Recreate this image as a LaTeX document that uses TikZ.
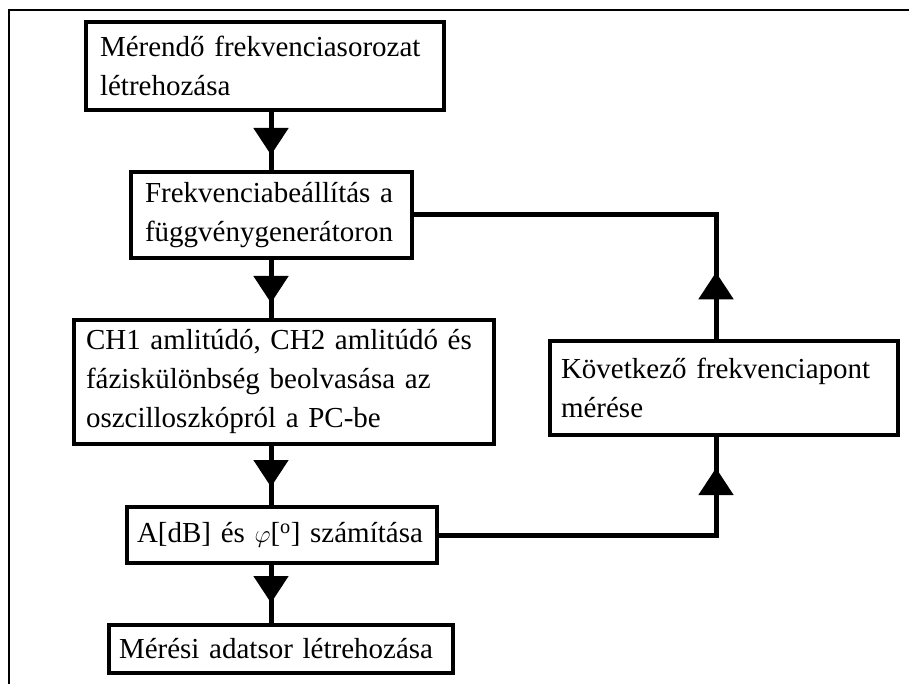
\documentclass[tikz,border=0pt]{standalone}
\usepackage{fontspec}
\setmainfont{Liberation Serif}
\usetikzlibrary{arrows.meta,decorations.markings,calc}
\tikzset{
  box/.style={draw, line width=4pt, rectangle, align=left, anchor=center,
    font=\fontsize{29}{39}\selectfont, inner ysep=0pt},
  conn/.style={line width=5pt},
  midarrow/.style={postaction={decorate, decoration={markings,
    mark=at position #1 with {\arrow{Triangle[width=34pt,length=27pt]}}}}},
  frameline/.style={line width=1.3pt}
}
\begin{document}
\begin{tikzpicture}[x=1pt,y=-1pt]
\useasboundingbox (0,0) rectangle (909,684);
\draw[frameline] (9,684) -- (9,10) coordinate (fc) -- (909,10);
% boxes: centre, width, height
\node[box, minimum width=358pt, minimum height=88pt, text width=330pt, inner xsep=14pt] (b1) at (265,66)
  {Mérendő frekvenciasorozat\\létrehozása};
\node[box, minimum width=281pt, minimum height=86pt, text width=253pt, inner xsep=14pt] (b2) at (271.5,215)
  {Frekvenciabeállítás a\\függvénygenerátoron};
\node[box, minimum width=420pt, minimum height=124pt, text width=396pt, inner xsep=12pt] (b3) at (284,382)
  {CH1 amlitúdó, CH2 amlitúdó és\\fáziskülönbség beolvasása az\\oszcilloszkópról a PC-be};
\node[box, minimum width=310pt, minimum height=56pt, text width=290pt, inner xsep=10pt] (b4) at (282,535)
  {A[dB] és $\varphi$[\textsuperscript{o}] számítása};
\node[box, minimum width=344pt, minimum height=48pt, text width=324pt, inner xsep=10pt] (b5) at (281,649)
  {Mérési adatsor létrehozása};
\node[box, line width=3.5pt, minimum width=348pt, minimum height=94pt, text width=326pt, inner xsep=11pt] (b6) at (724,388)
  {Következő frekvenciapont\\mérése};
\coordinate (ax) at (271,0);
\coordinate (rx) at (716,0);
\draw[conn, midarrow=43pt] (b1.south -| ax) -- (b2.north -| ax);
\draw[conn, midarrow=43pt] (b2.south -| ax) -- (b3.north -| ax);
\draw[conn, midarrow=41pt] (b3.south -| ax) -- (b4.north -| ax);
\draw[conn, midarrow=38pt] (b4.south -| ax) -- (b5.north -| ax);
\draw[conn, midarrow=67pt] (b6.north -| rx) -- (rx |- b2.east) -- (b2.east);
\draw[conn, midarrow=344pt] (b4.east) -- (rx |- b4.east) -- (b6.south -| rx);
\end{tikzpicture}
\end{document}
